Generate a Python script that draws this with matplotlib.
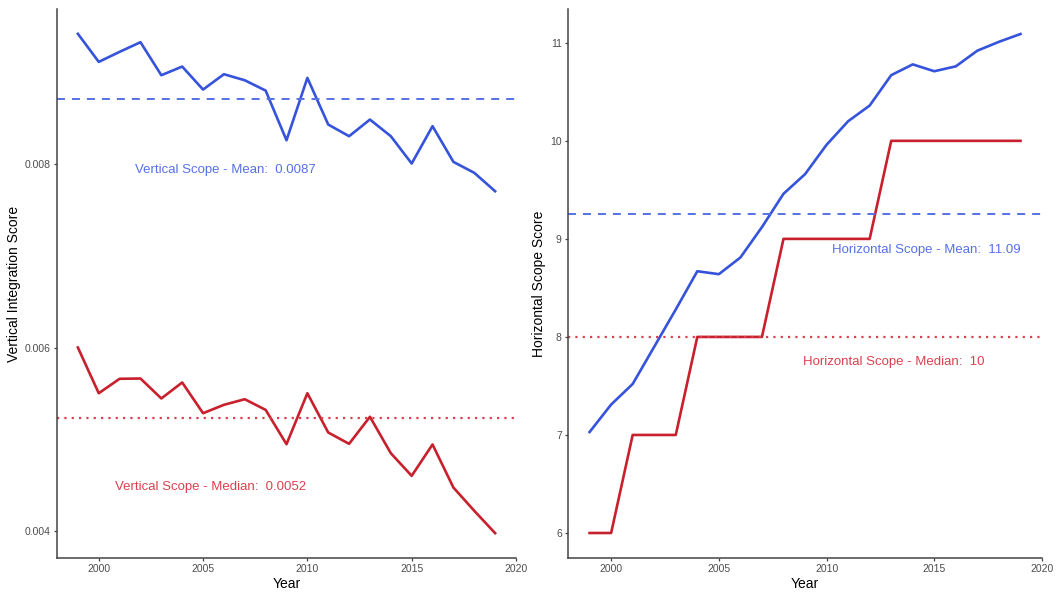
import matplotlib.pyplot as plt
import numpy as np

plt.rcParams['font.family'] = ['Liberation Sans', 'DejaVu Sans']

years = np.arange(1999, 2020)

# vertical integration: yearly mean and median
vert_mean = [0.009410, 0.009105, 0.009214, 0.009319, 0.008960, 0.009054, 0.008804,
             0.008971, 0.008905, 0.008793, 0.008253, 0.008931, 0.008424, 0.008297,
             0.008478, 0.008297, 0.008000, 0.008406, 0.008018, 0.007899, 0.007699]
vert_median = [0.006000, 0.005503, 0.005660, 0.005663, 0.005446, 0.005620, 0.005286,
               0.005377, 0.005438, 0.005322, 0.004949, 0.005503, 0.005076, 0.004953,
               0.005247, 0.004851, 0.004605, 0.004946, 0.004478, 0.004225, 0.003982]
vert_overall_mean = 0.0087
vert_overall_median = 0.00523

# horizontal scope: yearly mean and median
horiz_mean = [7.03, 7.31, 7.52, 7.90, 8.28, 8.67, 8.64, 8.81, 9.12, 9.46, 9.66,
              9.96, 10.20, 10.36, 10.67, 10.78, 10.71, 10.76, 10.92, 11.01, 11.09]
horiz_median = [6, 6, 7, 7, 7, 8, 8, 8, 8, 9, 9, 9, 9, 9, 10, 10, 10, 10, 10, 10, 10]
horiz_overall_mean = 9.25
horiz_overall_median = 8.0

blue = '#3553DB'
red = '#C8202C'
blue_ref = '#5671E6'
red_ref = '#D8424E'

fig = plt.figure(figsize=(10.58, 5.95), dpi=100)
ax1 = fig.add_axes([0.0539, 0.0622, 0.4338, 0.9227])
ax2 = fig.add_axes([0.5369, 0.0622, 0.4480, 0.9227])


def style(ax, ylabel):
    for s in ['top', 'right']:
        ax.spines[s].set_visible(False)
    for s in ['left', 'bottom']:
        ax.spines[s].set_color('#444444')
        ax.spines[s].set_linewidth(1.1)
    ax.tick_params(axis='both', colors='#444444', labelcolor='#4D4D4D',
                   labelsize=7.5, length=2.5, width=0.9, pad=2)
    ax.set_xlim(1998, 2020)
    ax.set_xticks([2000, 2005, 2010, 2015, 2020])
    ax.set_xlabel('Year', fontsize=10, labelpad=2)
    ax.set_ylabel(ylabel, fontsize=10, labelpad=3)


# left panel
ax1.plot(years, vert_mean, color=blue, lw=1.9)
ax1.plot(years, vert_median, color=red, lw=1.9)
ax1.axhline(vert_overall_mean, color=blue_ref, lw=1.4, ls=(0, (4.1, 3.6)))
ax1.axhline(vert_overall_median, color=red_ref, lw=1.6, ls=(0, (1, 2.3)))
ax1.text(2006.07, 0.007935, 'Vertical Scope - Mean:  0.0087', color=blue_ref,
         fontsize=9.5, ha='center', va='center')
ax1.text(2005.35, 0.004482, 'Vertical Scope - Median:  0.0052', color=red_ref,
         fontsize=9.5, ha='center', va='center')
ax1.set_ylim(0.003712, 0.00968)
ax1.set_yticks([0.004, 0.006, 0.008])
ax1.set_yticklabels(['0.004', '0.006', '0.008'])
style(ax1, 'Vertical Integration Score')

# right panel
ax2.plot(years, horiz_mean, color=blue, lw=1.9)
ax2.plot(years, horiz_median, color=red, lw=1.9)
ax2.axhline(horiz_overall_mean, color=blue_ref, lw=1.4, ls=(0, (4.1, 3.6)))
ax2.axhline(horiz_overall_median, color=red_ref, lw=1.6, ls=(0, (1, 2.3)))
ax2.text(2014.63, 8.886, 'Horizontal Scope - Mean:  11.09', color=blue_ref,
         fontsize=9.5, ha='center', va='center')
ax2.text(2013.13, 7.748, 'Horizontal Scope - Median:  10', color=red_ref,
         fontsize=9.5, ha='center', va='center')
ax2.set_ylim(5.745, 11.345)
ax2.set_yticks([6, 7, 8, 9, 10, 11])
style(ax2, 'Horizontal Scope Score')

fig.savefig('out.png', dpi=100)
